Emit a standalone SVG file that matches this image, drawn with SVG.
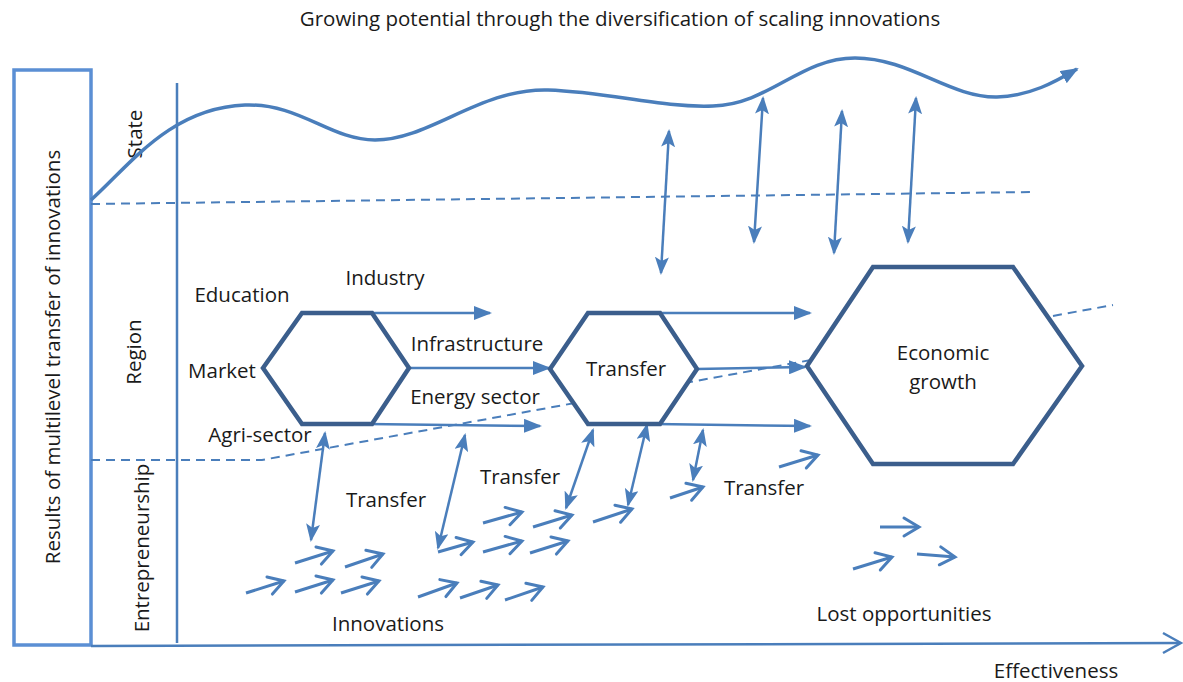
<svg xmlns="http://www.w3.org/2000/svg" width="1183" height="682" viewBox="0 0 1183 682">
<style>
text{font-family:"Open Sans","Noto Sans",sans-serif;font-size:20.5px;fill:#1a1a1a;text-anchor:middle;dominant-baseline:central}
.ln{stroke:#4A7EBB;fill:none;stroke-width:2.5}
.dash{stroke:#4A7EBB;fill:none;stroke-width:2;stroke-dasharray:9 6}
.hex{stroke:#3B5E8C;stroke-width:4.5;fill:#fff;stroke-linejoin:miter}
.conn{stroke:#4A7EBB;stroke-width:2.5;fill:none;marker-end:url(#tri)}
.dbl{stroke:#4A7EBB;stroke-width:2.5;fill:none;marker-end:url(#tri2);marker-start:url(#tri2)}
.sm{stroke:#4A7EBB;stroke-width:3;fill:none;marker-end:url(#chev)}
</style>
<defs>
<marker id="tri" markerUnits="userSpaceOnUse" markerWidth="18" markerHeight="14" viewBox="0 0 18 14" refX="16" refY="7" orient="auto"><path d="M0,0 L18,7 L0,14 Z" fill="#4A7EBB"/></marker>
<marker id="tri2" markerUnits="userSpaceOnUse" markerWidth="18" markerHeight="14" viewBox="0 0 18 14" refX="16" refY="7" orient="auto-start-reverse"><path d="M0,0 L18,7 L0,14 L4,7 Z" fill="#4A7EBB"/></marker>
<marker id="chev" markerUnits="userSpaceOnUse" markerWidth="22" markerHeight="24" viewBox="0 0 22 24" refX="19" refY="12" orient="auto"><path d="M4,3 L19,12 L4,21" fill="none" stroke="#4A7EBB" stroke-width="3" stroke-linecap="round"/></marker>
</defs>
<rect width="1183" height="682" fill="#fff"/>
<text x="620" y="18">Growing potential through the diversification of scaling innovations</text>
<g id="frame">
<rect x="14" y="70" width="77" height="575" fill="none" stroke="#5B8FD4" stroke-width="3.5"/>
<line x1="177" y1="83" x2="177" y2="643" class="ln" stroke-width="2"/>
<path d="M91,646 L1180,643" class="ln" stroke-width="2.5"/>
<path d="M1163,633 L1181,643 L1163,653" class="ln" stroke-width="2.5"/>
<line x1="91" y1="204" x2="1032" y2="192" class="dash"/>
<path d="M91,460 L262,460 L1113,305" class="dash"/>
</g>
<g id="labels">
<text transform="translate(52,357) rotate(-90)">Results of multilevel transfer of innovations</text>
<text transform="translate(134,134) rotate(-90)">State</text>
<text transform="translate(133,352) rotate(-90)">Region</text>
<text transform="translate(141,548) rotate(-90)">Entrepreneurship</text>
<text x="242" y="294">Education</text>
<text x="385" y="277">Industry</text>
<text x="222" y="370">Market</text>
<text x="477" y="343">Infrastructure</text>
<text x="475" y="396">Energy sector</text>
<text x="260" y="434">Agri-sector</text>
<text x="386" y="499">Transfer</text>
<text x="520" y="476">Transfer</text>
<text x="764" y="487">Transfer</text>
<text x="388" y="623">Innovations</text>
<text x="904" y="613">Lost opportunities</text>
<text x="1056" y="670">Effectiveness</text>
</g>
<g id="connectors">
<path d="M91,200 C130,165 170,108 245,105 C300,103 330,140 375,140 C430,140 480,88 548,90 C610,92 660,108 713,106 C770,104 800,58 855,58 C910,58 950,98 997,97 C1030,96 1055,82 1077,69" stroke="#4A7EBB" stroke-width="3.5" fill="none" marker-end="url(#tri)"/>
<path class="dbl" d="M669,131 L661,273"/>
<path class="dbl" d="M763,98 L754,242"/>
<path class="dbl" d="M842,111 L834,253"/>
<path class="dbl" d="M916,98 L908,242"/>
<path class="conn" d="M347,313 L490,313"/>
<path class="conn" d="M409,368 L549,368"/>
<path class="conn" d="M367,424 L540,426"/>
<path class="conn" d="M655,313 L810,313"/>
<path class="conn" d="M697,369 L805,367"/>
<path class="conn" d="M655,424 L810,426"/>
<path class="dbl" d="M325,433 L311,540"/>
<path class="dbl" d="M465,435 L438,548"/>
<path class="dbl" d="M593,430 L566,508"/>
<path class="dbl" d="M647,425 L628,505"/>
<path class="dbl" d="M703,430 L693,480"/>
<path class="sm" d="M295,563 L333,551"/>
<path class="sm" d="M345,567 L383,554"/>
<path class="sm" d="M246,593 L284,581"/>
<path class="sm" d="M295,592 L333,580"/>
<path class="sm" d="M341,593 L379,581"/>
<path class="sm" d="M438,552 L473,542"/>
<path class="sm" d="M483,552 L522,541"/>
<path class="sm" d="M530,553 L568,541"/>
<path class="sm" d="M483,523 L522,512"/>
<path class="sm" d="M533,527 L572,515"/>
<path class="sm" d="M593,522 L632,509"/>
<path class="sm" d="M418,597 L457,583"/>
<path class="sm" d="M460,598 L498,585"/>
<path class="sm" d="M505,600 L543,587"/>
<path class="sm" d="M670,498 L703,487"/>
<path class="sm" d="M779,467 L818,455"/>
<path class="sm" d="M880,527 L919,527"/>
<path class="sm" d="M853,569 L892,557"/>
<path class="sm" d="M917,554 L955,557"/>
</g>
<g id="hex-left"><polygon class="hex" points="263,368 302,313 372,313 409,368 372,424 302,424"/></g>
<g id="hex-transfer"><polygon class="hex" points="550,369 588,313 660,313 697,369 660,424 588,424"/><text x="626" y="368">Transfer</text></g>
<g id="hex-growth"><polygon class="hex" points="807,366 873,267 1013,267 1082,366 1013,464 873,464"/><text x="943" y="352">Economic</text><text x="943" y="381">growth</text></g>
</svg>
